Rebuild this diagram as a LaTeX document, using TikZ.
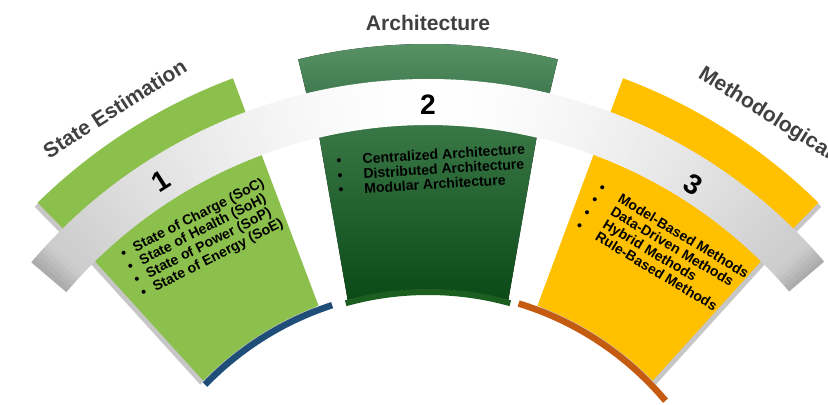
\documentclass[tikz,border=0pt]{standalone}
\usepackage{fontspec}
\setmainfont{Liberation Sans}
\usepackage{tikz}
\usepackage{xcolor}

\definecolor{leafgreen}{HTML}{8CC04C}
\definecolor{pinetop}{HTML}{5A9467}
\definecolor{pinebot}{HTML}{3E7A4E}
\definecolor{deeptop}{HTML}{3B7A48}
\definecolor{deepbot}{HTML}{0B4A17}
\definecolor{lipgreen}{HTML}{1B5E20}
\definecolor{amber}{HTML}{FFC000}
\definecolor{navyarc}{HTML}{1F4E79}
\definecolor{rustarc}{HTML}{C55A11}
\definecolor{titlegray}{HTML}{404040}
\definecolor{depthgray}{HTML}{C6C6C6}

% top angles, bottom angles, inner and outer radius
\newcommand{\fanpart}[6]{(#1:#6) arc[start angle=#1, end angle=#2, radius=#6] -- (#4:#5) arc[start angle=#4, end angle=#3, radius=#5] -- cycle}

\tikzset{
  headline/.style={text=titlegray, font=\bfseries\fontsize{12}{14}\selectfont, inner sep=0pt},
  stepnum/.style={font=\bfseries\fontsize{16}{18}\selectfont, inner sep=0pt},
  itemlist/.style={font=\bfseries\fontsize{8}{8.4}\selectfont, align=left, inner sep=0pt, anchor=north west},
  bottomarc/.style={line width=0.13cm}
}

\begin{document}
\begin{tikzpicture}[x=0.02cm, y=0.02cm]
				\useasboundingbox (-428,195) rectangle (400,600);
				\clip (-428,195) rectangle (400,600);
				% depth under the pieces
				\fill[depthgray, shift={(-3,-4)}] \fanpart{110.5}{134.5}{110.5}{134.5}{519}{557};
				\fill[depthgray, shift={(3,-4)}] \fanpart{45.5}{69.5}{45.5}{69.5}{519}{557};
				\fill[depthgray, shift={(-3,-4)}] \fanpart{110.5}{134.5}{110.4}{135.7}{314}{478};
				\fill[depthgray, shift={(3,-4)}] \fanpart{45.5}{69.6}{44.3}{69.6}{314}{478};
				% outer bands
				\fill[leafgreen] \fanpart{110.5}{134.5}{110.5}{134.5}{519}{557};
				\fill[top color=pinetop, bottom color=pinebot] \fanpart{76.5}{103.5}{76.5}{103.5}{519}{556};
				\fill[amber] \fanpart{45.5}{69.5}{45.5}{69.5}{519}{557};
				% bodies
				\fill[leafgreen] \fanpart{110.5}{134.5}{110.4}{135.7}{314}{478};
				\fill[top color=deeptop, bottom color=deepbot] \fanpart{76.8}{103.2}{75}{105}{310}{478};
				\fill[amber] \fanpart{45.5}{69.6}{44.3}{69.6}{314}{478};
				% ribbon
				\foreach \a in {40.5,41,...,139} {
					\pgfmathsetmacro{\d}{abs(\a+0.25-90)}
					\pgfmathsetmacro{\p}{22*((\d+0.01)/49.5)^1.6 + (\d>47)*12*((\d-47)/2.5)}
					\fill[black!\p] \fanpart{\a}{\a+0.6}{\a}{\a+0.6}{475}{521};
				}
				% bottom arcs
				\draw[bottomarc, navyarc] (136:310) arc[start angle=136, end angle=108, radius=310];
				\draw[line width=0.12cm, lipgreen] (105.5:308) arc[start angle=105.5, end angle=74.5, radius=308];
				\draw[bottomarc, rustarc] (73:310) arc[start angle=73, end angle=40, radius=310];
				% titles and numbers
				\node[headline, rotate=32.5] (titlestate) at (122.5:583) {State Estimation};
				\node[headline] (titlearch) at (90:577) {Architecture};
				\node[headline, rotate=-32] (titlemethod) at (55.2:592) {Methodological};
				\node[stepnum, rotate=32.5] (numone) at (122.5:497) {1};
				\node[stepnum] (numtwo) at (90:495) {2};
				\node[stepnum, rotate=-32.5] (numthree) at (57.5:493) {3};
				% lists
				\node[itemlist, rotate=27] (liststate) at (-309.5,351) {\textbullet\hspace{5pt}State of Charge (SoC)\\ \textbullet\hspace{5pt}State of Health (SoH)\\ \textbullet\hspace{5pt}State of Power (SoP)\\ \textbullet\hspace{5pt}State of Energy (SoE)};
				\node[itemlist, rotate=3.5] (listarch) at (-92,445) {\textbullet\hspace{12pt}Centralized Architecture\\ \textbullet\hspace{12pt}Distributed Architecture\\ \textbullet\hspace{12pt}Modular Architecture};
				\node[itemlist, rotate=-31] (listmethod) at (175,419) {\textbullet\hspace{10pt}Model-Based Methods\\ \textbullet\hspace{10pt}Data-Driven Methods\\ \textbullet\hspace{10pt}Hybrid Methods\\ \textbullet\hspace{10pt}Rule-Based Methods};
			\end{tikzpicture}
\end{document}
